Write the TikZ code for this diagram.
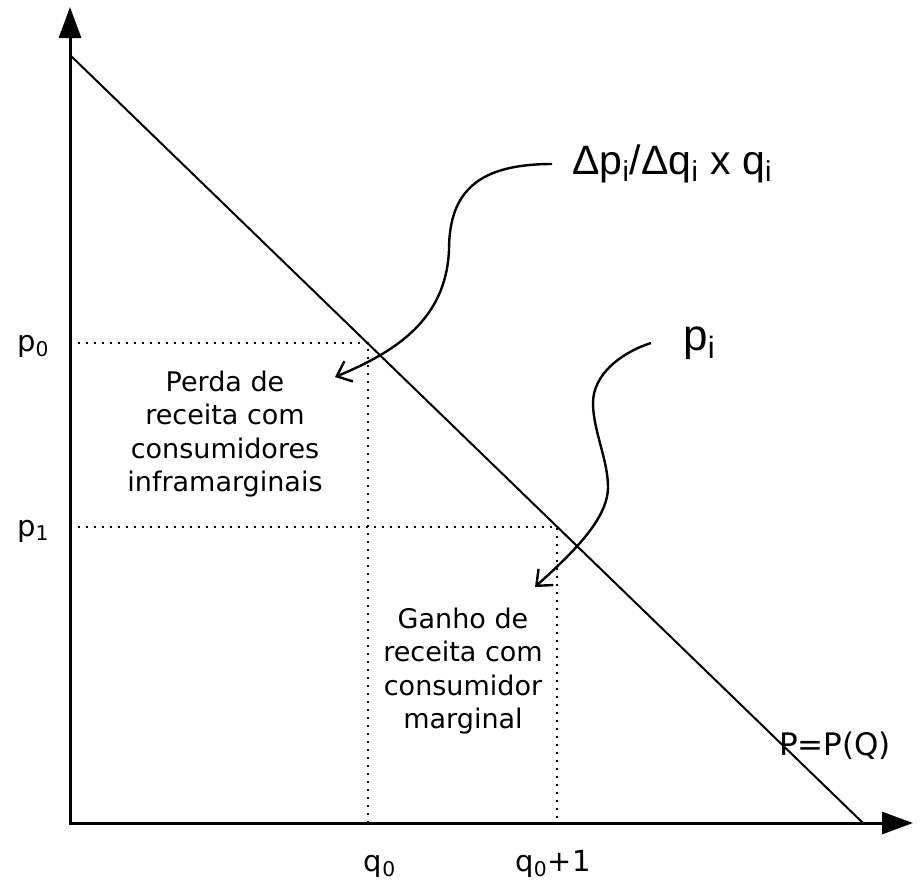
\documentclass[tikz,border=0pt]{standalone}
\usepackage{fontspec}
\setmainfont{DejaVu Sans}
\newfontfamily\labelfont{Liberation Sans}
\usetikzlibrary{arrows.meta}

\begin{document}
\begin{tikzpicture}[x=0.5pt, y=-0.5pt,
    axis/.style={line width=1.5pt},
    guide/.style={line width=1pt, dash pattern=on 1pt off 3pt},
    pointer/.style={line width=1.2pt, -{Straight Barb[length=6.5pt, width=11pt]}},
    area/.style={align=center, font=\fontsize{13.5}{16.7}\selectfont},
    tick/.style={font=\fontsize{14.5}{17}\selectfont, inner sep=0pt}]
  \useasboundingbox (0,0) rectangle (921,880);
  \coordinate (O) at (70,823);
  \coordinate (ytop) at (70,7);
  \coordinate (xend) at (913,823);
  \coordinate (pmax) at (70,55);
  \coordinate (qmax) at (863,823);
  \coordinate (e0) at (368,343);
  \coordinate (e1) at (557,527);

  \draw[axis, {Triangle[length=15.5pt, width=11pt]}-{Triangle[length=15.5pt, width=11pt]}] (ytop) -- (O) -- (xend);
  \draw[line width=1pt] (pmax) -- (qmax);
  \draw[guide] (O |- e0) -- (e0) -- (O -| e0);
  \draw[guide] (O |- e1) -- (e1) -- (O -| e1);

  \node[tick, anchor=base east] (p0) at (50,351) {p\textsubscript{0}};
  \node[tick, anchor=base east] (p1) at (50,536) {p\textsubscript{1}};
  \node[tick, anchor=base] (q0) at (380,871) {q\textsubscript{0}};
  \node[tick, anchor=base] (q1) at (553,871) {q\textsubscript{0}+1};
  \node[tick, anchor=base, font=\fontsize{15.5}{18}\selectfont] (curve) at (835,755) {P=P(Q)};

  \node[area] (loss) at (225,434) {Perda de\\receita com\\consumidores\\inframarginais};
  \node[area] (gain) at (463,671) {Ganho de\\receita com\\consumidor\\marginal};

  \node[anchor=west, inner xsep=10pt, inner ysep=0pt, font=\labelfont\fontsize{20.5}{24}\selectfont] (slope) at (552,164) {Δp\textsubscript{i}/Δq\textsubscript{i} x q\textsubscript{i}};
  \node[anchor=west, inner xsep=16pt, inner ysep=0pt, font=\labelfont\fontsize{22}{26}\selectfont] (price) at (651,343) {p\textsubscript{i}};

  \coordinate (tipA) at (335,377);
  \coordinate (tipB) at (535,587);
  \draw[pointer] (slope.west) .. controls (480,164) and (449,190) .. (449,250)
    .. controls (446,320) and (395,352) .. (tipA);
  \draw[pointer] (price.west) .. controls (620,353) and (593,375) .. (593,403)
    .. controls (593,430) and (608,460) .. (608,487)
    .. controls (608,520) and (570,555) .. (tipB);
\end{tikzpicture}
\end{document}
